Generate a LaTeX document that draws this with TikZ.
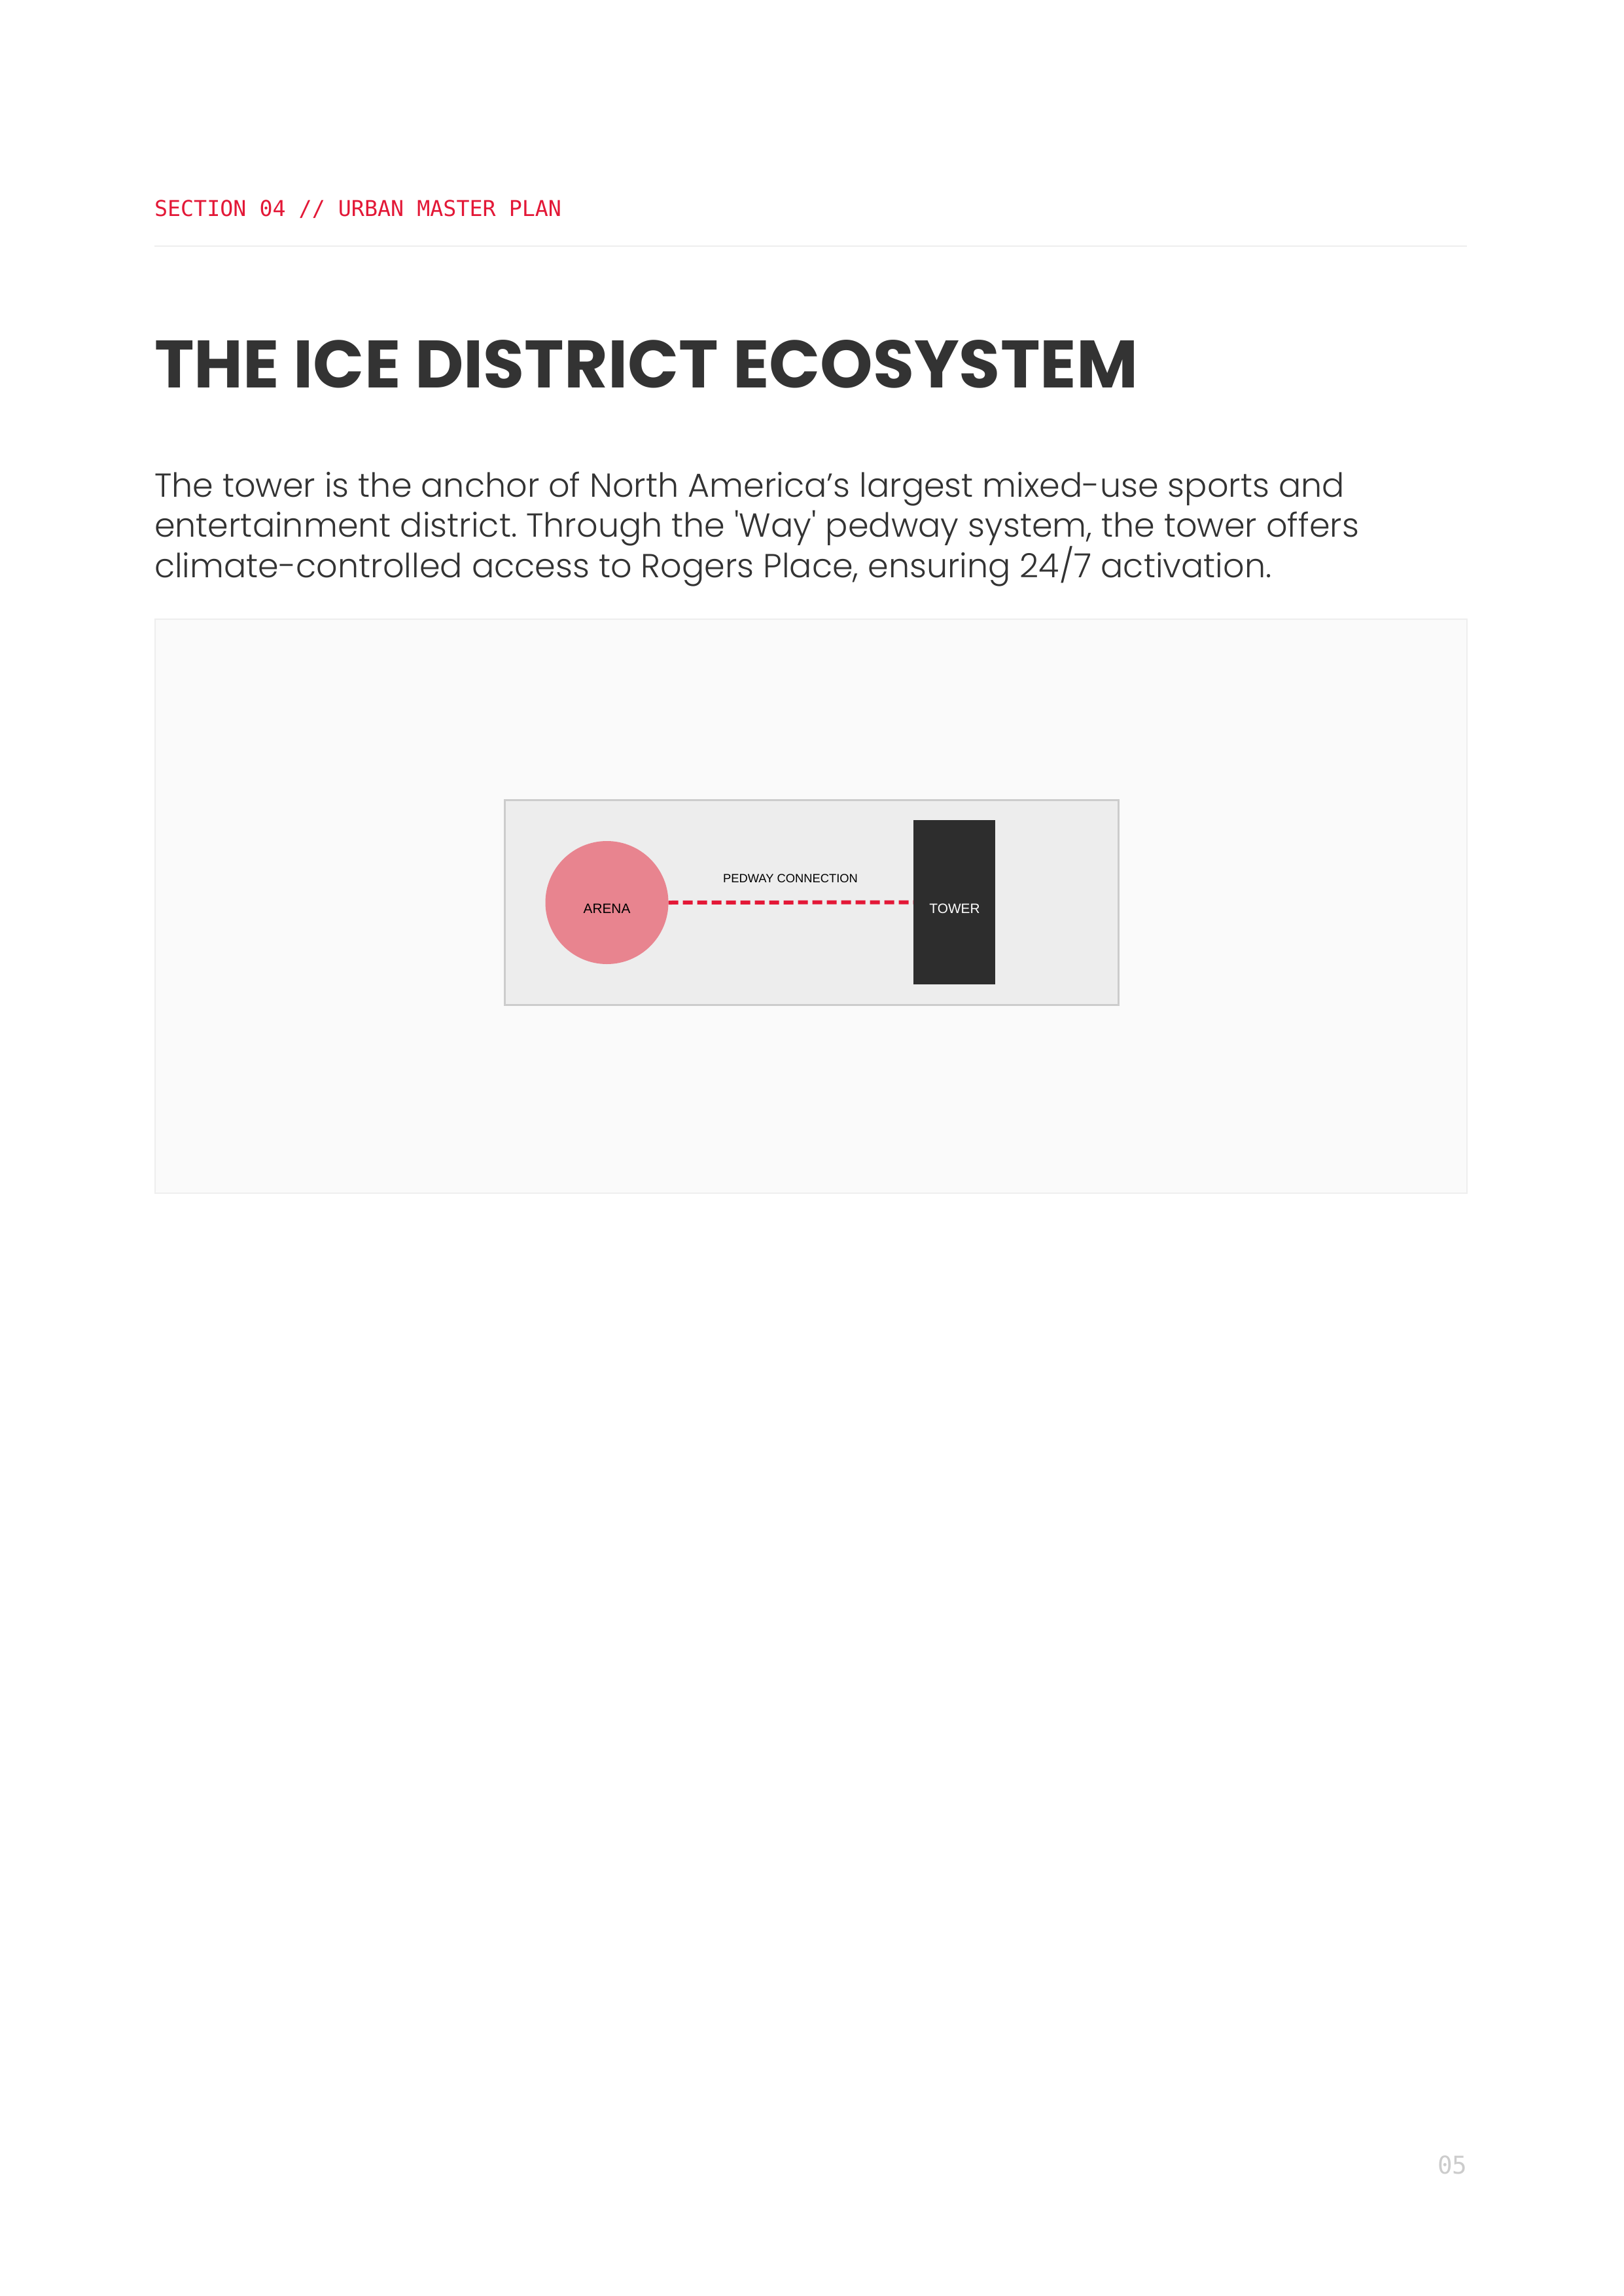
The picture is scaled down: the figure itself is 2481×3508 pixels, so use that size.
\documentclass[tikz,border=0pt]{standalone}
\usepackage{fontspec}
\setmainfont{Poppins}
\newfontfamily\bodyfont{Poppins}[UprightFont={* Light}]
\newfontfamily\titlefont{Poppins}[UprightFont={* Bold}]
\newfontfamily\monofont{DejaVu Sans Mono}
\newfontfamily\labelfont{Liberation Sans}
\definecolor{accent}{HTML}{E31837}
\definecolor{ink}{HTML}{333333}
\definecolor{rulegray}{HTML}{EEEEEE}
\definecolor{panelfill}{HTML}{FAFAFA}
\definecolor{sitefill}{HTML}{EDEDED}
\definecolor{siteline}{HTML}{CCCCCC}
\definecolor{arenafill}{HTML}{E8848F}
\definecolor{towerfill}{HTML}{2D2D2D}
\definecolor{pagenum}{HTML}{CCCCCC}
\tikzset{
  txt/.style={inner sep=0pt, outer sep=0pt, anchor=base west},
  bodytxt/.style={txt, text=ink, font=\bodyfont\frenchspacing\fontsize{12.2}{14.64}\selectfont},
  lbl/.style={inner sep=0pt, outer sep=0pt, anchor=base, font=\labelfont\fontsize{5}{6}\selectfont},
  arenastyle/.style={circle, fill=arenafill, draw=none, inner sep=0pt, outer sep=0pt, minimum size=45.12pt},
  towerstyle/.style={rectangle, fill=towerfill, draw=none, inner sep=0pt, outer sep=0pt, minimum width=30pt, minimum height=60.24pt},
  pedway/.style={draw=accent, line width=1.44pt, dash pattern=on 3.6pt off 1.68pt}
}
\begin{document}
\begin{tikzpicture}[x=0.24pt, y=-0.24pt]
\useasboundingbox (0,0) rectangle (2481,3508);
\fill[white] (0,0) rectangle (2481,3508);
% header
\node[txt, text=accent, font=\monofont\fontsize{8}{10}\selectfont] (section) at (236,331) {SECTION 04 // URBAN MASTER PLAN};
\draw[rulegray, line width=0.5pt] (236,376) -- (2242,376);
% title
\node[txt, text=ink, font=\titlefont\fontsize{24.6}{28}\selectfont] (title) at (236,593) {THE ICE DISTRICT ECOSYSTEM};
% paragraph
\node[bodytxt] (p1) at (236,760) {The tower is the anchor of North America’s largest mixed-use sports and};
\node[bodytxt] (p2) at (236,821) {entertainment district. Through the 'Way' pedway system, the tower offers};
\node[bodytxt] (p3) at (236,883) {climate-controlled access to Rogers Place, ensuring 24/7 activation.};
% panel
\draw[fill=panelfill, draw=rulegray, line width=0.48pt] (237,946) rectangle (2242,1823);
\draw[fill=sitefill, draw=siteline, line width=0.72pt] (771,1222) rectangle (1709,1535);
% elements
\node[arenastyle] (arena) at (927.5,1379) {};
\node[towerstyle] (tower) at (1458.5,1378.5) {};
\draw[pedway] (arena.east) -- (tower.west);
\node[lbl, text=black] (arenalbl) at (927.5,1395) {ARENA};
\node[lbl, text=white] (towerlbl) at (1459,1395) {TOWER};
\node[lbl, text=black, font=\labelfont\fontsize{4.4}{5}\selectfont] (pedlbl) at (1208,1348) {PEDWAY CONNECTION};
% page number
\node[anchor=base east, inner sep=0pt, text=pagenum, font=\monofont\fontsize{9}{11}\selectfont] (pnum) at (2243,3321) {05};
\end{tikzpicture}
\end{document}
